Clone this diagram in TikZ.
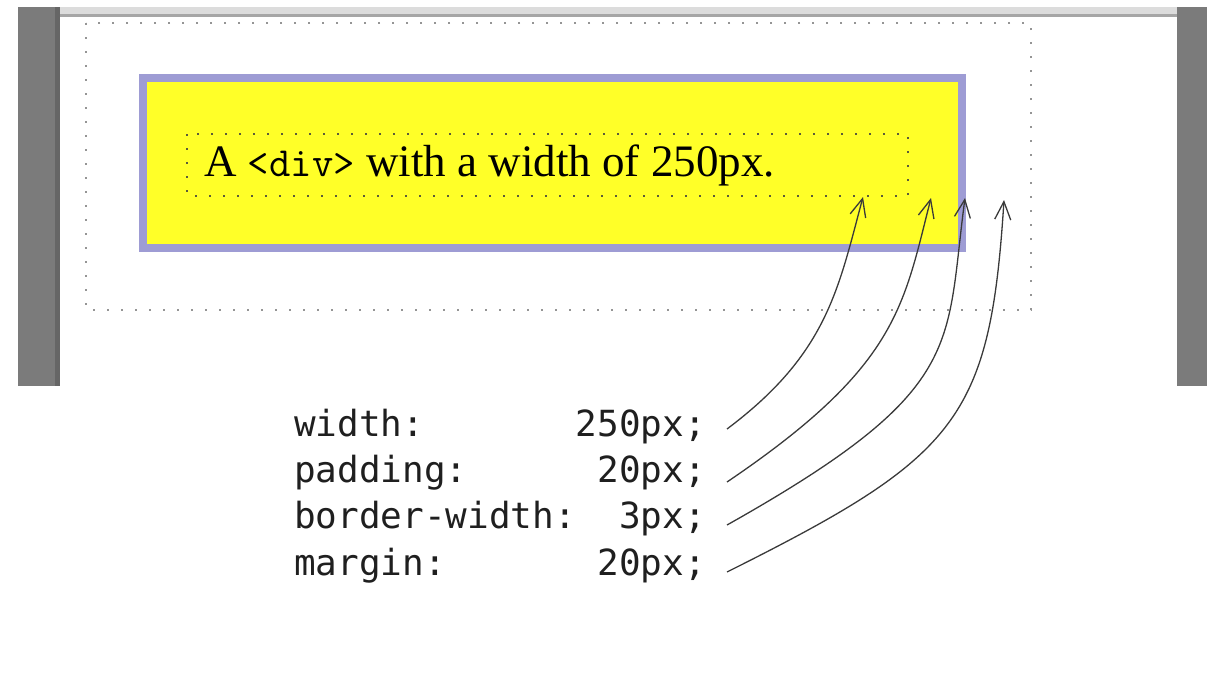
\documentclass[tikz,border=0pt]{standalone}
\usepackage{fontspec}
\setmainfont{Liberation Serif}
\setmonofont{Latin Modern Mono}
\newfontfamily\codefont{DejaVu Sans Mono}
\usetikzlibrary{arrows.meta}

\definecolor{framegray}{HTML}{7B7B7B}
\definecolor{framedark}{HTML}{666666}
\definecolor{toolbar}{HTML}{DCDCDC}
\definecolor{toolbarline}{HTML}{A6A6A6}
\definecolor{margindots}{HTML}{959595}
\definecolor{contentdots}{HTML}{5A5A3A}
\definecolor{boxborder}{HTML}{9E9CD4}
\definecolor{boxfill}{HTML}{FFFF28}
\definecolor{inkgray}{HTML}{3A3A3A}

\tikzset{
  dotbox/.style={line width=2.2pt, dash pattern=on 2.2pt off 11.8pt},
  cssline/.style={anchor=base west, inner sep=0pt, text=black!88,
    font=\codefont\fontsize{36}{40}\selectfont},
  pointer/.style={draw=inkgray, line width=1.3pt,
    -{Straight Barb[length=18pt,width=16pt]}}
}

\begin{document}
\begin{tikzpicture}[x=1pt,y=-1pt]
\useasboundingbox (0,0) rectangle (1207,689);

% browser window frame
\fill[framegray] (18,7) rectangle (55,386);
\fill[framedark] (55,7) rectangle (60,386);
\fill[framegray] (1177,7) rectangle (1207,386);
\fill[toolbar] (60,7) rectangle (1177,14);
\fill[toolbarline] (60,14) rectangle (1177,17);

% margin area
\draw[dotbox, draw=margindots] (86,23) rectangle (1031,310);

% the div: border, padding, content
\draw[line width=8pt, draw=boxborder, fill=boxfill] (143,78) rectangle (961.5,247.5);
\draw[dotbox, draw=contentdots] (187,134) rectangle (908,196);

\node[anchor=base west, inner sep=0pt, font=\fontsize{45}{54}\selectfont] (caption) at (204,176)
  {A {\ttfamily\fontsize{41.5}{44}\selectfont <div>} with a width of 250px.};

% CSS declarations
\node[cssline] (w) at (294,436) {width:\hphantom{0000000}250px;};
\node[cssline] (p) at (294,482) {padding:\hphantom{000000}20px;};
\node[cssline] (b) at (294,528) {border-width:\hphantom{00}3px;};
\node[cssline] (m) at (294,575) {margin:\hphantom{0000000}20px;};

% arrow ends
\coordinate (ws) at (727,429);
\coordinate (ps) at (727,482);
\coordinate (bs) at (727,525);
\coordinate (ms) at (727,572);
\coordinate (wt) at (863,197);
\coordinate (pt) at (931,198);
\coordinate (bt) at (965,198);
\coordinate (mt) at (1004,200);

\draw[pointer] (ws) .. controls +(100,-75) and +(-25,93) .. (wt);
\draw[pointer] (ps) .. controls +(170,-115) and +(-28,110) .. (pt);
\draw[pointer] (bs) .. controls +(240,-135) and +(-20,150) .. (bt);
\draw[pointer] (ms) .. controls +(230,-115) and +(-14,220) .. (mt);
\end{tikzpicture}
\end{document}
